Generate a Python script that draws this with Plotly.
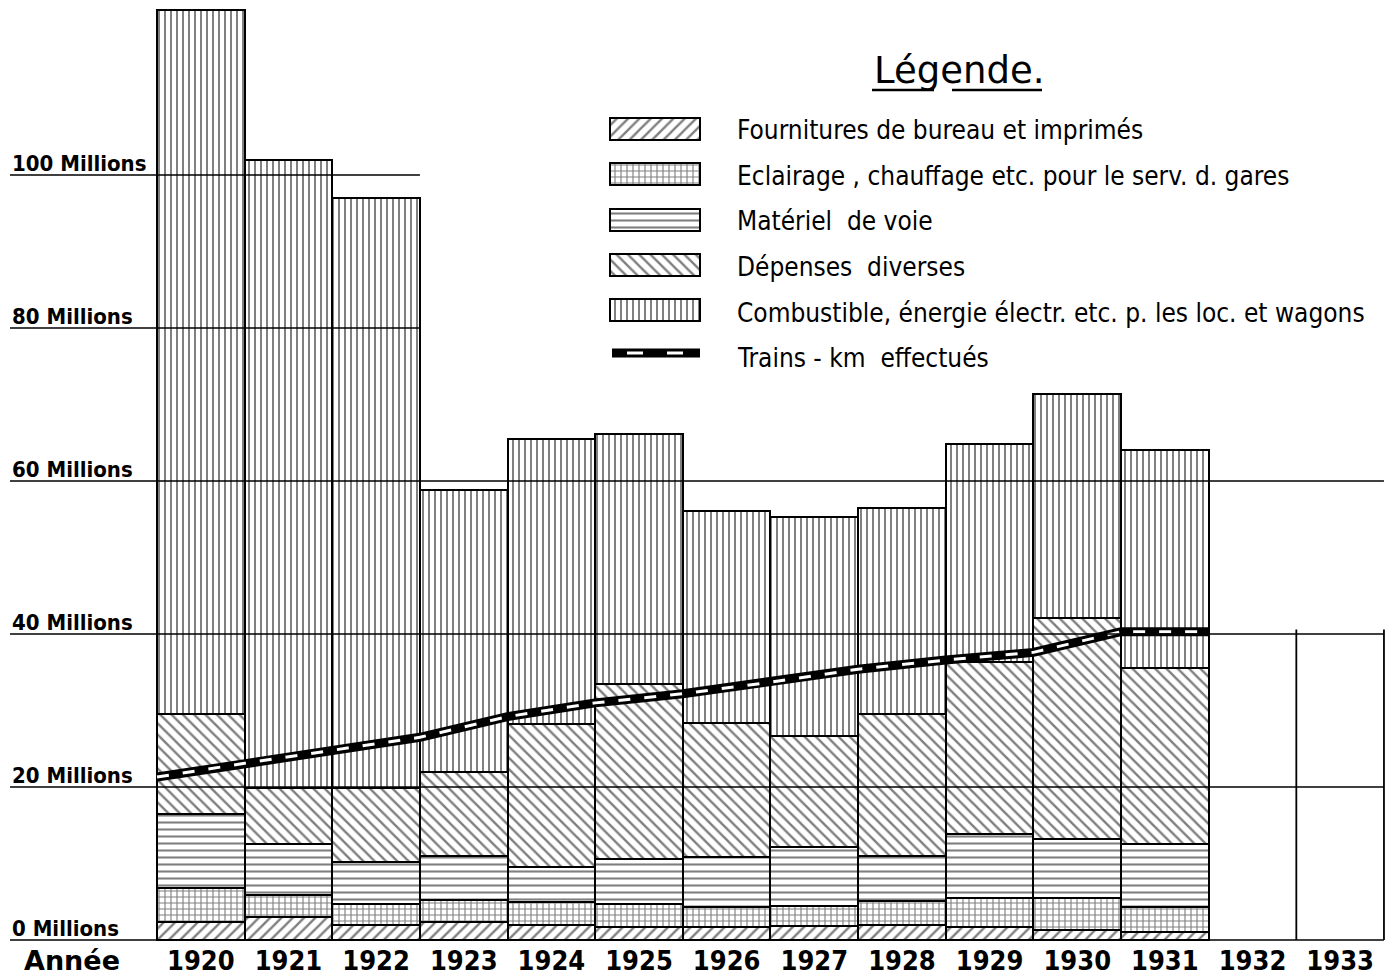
import plotly.graph_objects as go

# ---------------- data (millions) ----------------
years = [1920, 1921, 1922, 1923, 1924, 1925, 1926, 1927, 1928, 1929, 1930, 1931]
fournitures = [2.3, 3.0, 1.9, 2.4, 2.0, 1.7, 1.75, 1.85, 2.0, 1.75, 1.3, 1.1]
eclairage = [4.5, 2.9, 2.8, 2.8, 3.0, 3.0, 2.55, 2.55, 3.1, 3.7, 4.15, 3.25]
materiel = [9.7, 6.7, 5.5, 5.8, 4.6, 5.9, 6.5, 7.7, 5.9, 8.45, 7.75, 8.15]
depenses = [13.1, 7.3, 9.7, 10.9, 18.7, 22.9, 17.6, 14.6, 18.6, 22.5, 28.9, 23.1]
combustible = [92.0, 82.1, 77.1, 36.9, 37.2, 32.7, 27.7, 28.6, 26.9, 28.5, 29.3, 28.5]

# trains-km curve, plotted at the year boundaries
trains_x = [1919.5, 1920.5, 1921.5, 1922.5, 1923.5, 1924.5, 1925.5,
            1926.5, 1927.5, 1928.5, 1929.5, 1930.5, 1931.5]
trains_km = [21.3, 23.1, 24.8, 26.5, 29.2, 31.0, 32.2, 33.7, 35.4, 36.6, 37.6, 40.3, 40.3]

axis_years = [1920, 1921, 1922, 1923, 1924, 1925, 1926, 1927, 1928, 1929, 1930, 1931, 1932, 1933]
year_labels = ["1920", "1921", "1922", "1923", "1924", "1925", "1926",
               "1927", "1928", "1929", "1930", "1931", "1932", "1933"]
grid_values = [0, 20, 40, 60, 80, 100]
grid_labels = ["0 Millions", "20 Millions", "40 Millions", "60 Millions", "80 Millions", "100 Millions"]

series_names = [
    "Fournitures de bureau et imprimés",
    "Eclairage , chauffage etc. pour le serv. d. gares",
    "Matériel  de voie",
    "Dépenses  diverses",
    "Combustible, énergie électr. etc. p. les loc. et wagons",
]
trains_name = "Trains - km  effectués"

# ---------------- styles ----------------
W, H = 1394, 977
MB = 35
PLOT_H = H - MB
X0, X1 = 1917.7086, 1933.6146
Y0, Y1 = -0.26, 122.88

styles = [
    dict(shape="/", size=8, solidity=0.3),
    dict(shape="+", size=6, solidity=0.34),
    dict(shape="-", size=7, solidity=0.3),
    dict(shape="\\", size=8, solidity=0.3),
    dict(shape="|", size=6, solidity=0.33),
]
values = [fournitures, eclairage, materiel, depenses, combustible]

COND = "DejaVu Sans Condensed, DejaVu Sans, sans-serif"

fig = go.Figure()

for name, vals, st in zip(series_names, values, styles):
    fig.add_trace(go.Bar(
        x=years, y=vals, name=name, width=1.0,
        marker=dict(color="white",
                    line=dict(color="black", width=2),
                    pattern=dict(shape=st["shape"], size=st["size"], solidity=st["solidity"],
                                 fgcolor="black", bgcolor="white", fillmode="overlay")),
        showlegend=False,
    ))

# trains-km line: thick black with white dashes
fig.add_trace(go.Scatter(x=trains_x, y=trains_km, mode="lines",
                         line=dict(color="black", width=9), showlegend=False))
fig.add_trace(go.Scatter(x=trains_x, y=trains_km, mode="lines",
                         line=dict(color="white", width=3, dash="12px,14px"), showlegend=False))

# ---------------- legend (drawn in a pixel-coordinate helper axis) ----------------
legend_rows = [128.7, 174, 219.5, 264.5, 309.5]
for name, st, yc in zip(series_names, styles, legend_rows):
    fig.add_trace(go.Bar(
        x=[90], y=[yc], orientation="h", width=22, xaxis="x2", yaxis="y2",
        marker=dict(color="white", line=dict(color="black", width=2),
                    pattern=dict(shape=st["shape"], size=st["size"], solidity=st["solidity"],
                                 fgcolor="black", bgcolor="white", fillmode="overlay")),
        showlegend=False, hoverinfo="skip",
    ))
fig.add_trace(go.Scatter(x=[2, 90], y=[353, 353], mode="lines", xaxis="x2", yaxis="y2",
                         line=dict(color="black", width=9), showlegend=False, hoverinfo="skip"))
fig.add_trace(go.Scatter(x=[17, 74], y=[353, 353], mode="lines", xaxis="x2", yaxis="y2",
                         line=dict(color="white", width=3, dash="16px,24px"),
                         showlegend=False, hoverinfo="skip"))

annotations = []
text_rows = [130, 176, 221, 267, 313, 358]
for txt, yc in zip(series_names + [trains_name], text_rows):
    annotations.append(dict(x=735 - 610, y=yc, xref="x2", yref="y2", text=txt,
                            showarrow=False, xanchor="left", yanchor="middle",
                            font=dict(family=COND, size=26, color="black")))
annotations.append(dict(x=872 - 610, y=70, xref="x2", yref="y2", text="Légende.",
                        showarrow=False, xanchor="left", yanchor="middle",
                        font=dict(family="DejaVu Sans, sans-serif", size=37, color="black")))

# y labels (sitting on the grid lines)
for v, lab in zip(grid_values, grid_labels):
    annotations.append(dict(x=10 - 610, y=v, xref="x2", yref="y", text=lab,
                            showarrow=False, xanchor="left", yanchor="bottom", yshift=-3,
                            font=dict(family=COND, size=22, color="black", weight="bold")))
annotations.append(dict(x=22 / W, y=1 - 960 / PLOT_H, xref="paper", yref="paper", text="Année",
                        showarrow=False, xanchor="left", yanchor="middle",
                        font=dict(family="DejaVu Sans, sans-serif", size=27, color="black",
                                  weight="bold")))

# ---------------- grid lines / frame ----------------
shapes = []
x_left = X0 + 10 / (W / (X1 - X0))
for v in grid_values:
    x_end = 1922.5 if v >= 80 else 1933.5
    shapes.append(dict(type="line", xref="x", yref="y", x0=x_left, x1=x_end, y0=v, y1=v,
                       line=dict(color="black", width=1.6), layer="above"))
for xv in [1932.5, 1933.5]:
    shapes.append(dict(type="line", xref="x", yref="y", x0=xv, x1=xv, y0=0, y1=40.6,
                       line=dict(color="black", width=1.8), layer="above"))
# underline of the legend title
for a, b in [(872, 934), (952, 1042)]:
    shapes.append(dict(type="line", xref="x2", yref="y2", x0=a - 610, x1=b - 610, y0=90, y1=90,
                       line=dict(color="black", width=2.5)))

fig.update_layout(
    width=W, height=H,
    margin=dict(l=0, r=0, t=0, b=MB),
    paper_bgcolor="white", plot_bgcolor="white",
    barmode="stack", bargap=0,
    showlegend=False,
    xaxis=dict(range=[X0, X1], tickmode="array", tickvals=axis_years, ticktext=year_labels,
               showgrid=False, zeroline=False, showline=False, ticks="",
               tickfont=dict(family=COND, size=27, color="black", weight="bold")),
    yaxis=dict(range=[Y0, Y1], showgrid=False, zeroline=False, showticklabels=False, showline=False),
    xaxis2=dict(overlaying="x", anchor="y2", range=[-610, W - 610], visible=False),
    yaxis2=dict(overlaying="y", anchor="x2", range=[PLOT_H, 0], visible=False),
    annotations=annotations,
    shapes=shapes,
)

fig.write_html("out.html", config={"displayModeBar": False},
               post_script="document.body.style.margin='0';")
